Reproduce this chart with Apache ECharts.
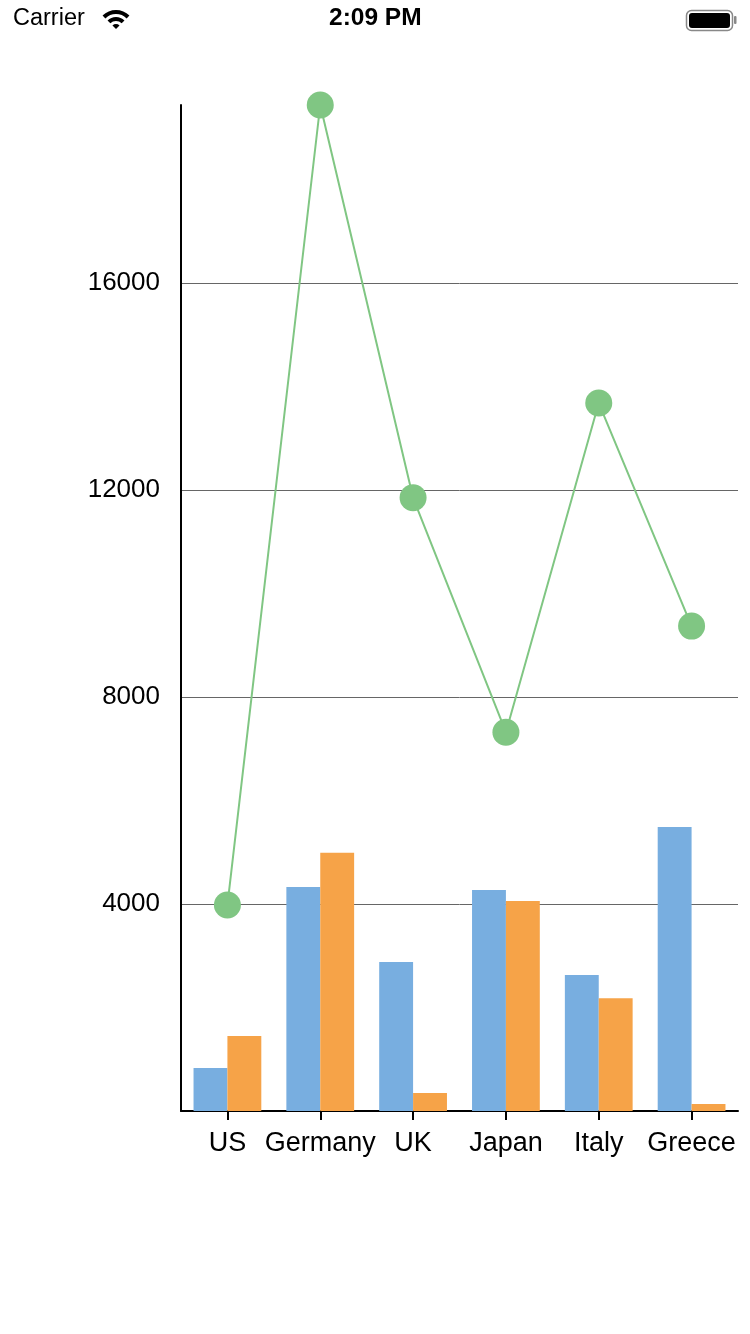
<!DOCTYPE html>
<html>
<head>
<meta charset="utf-8">
<script src="https://cdn.jsdelivr.net/npm/echarts@6/dist/echarts.min.js"></script>
<style>
html,body{margin:0;padding:0;background:#fff;}
#c{width:750px;height:1334px;}
</style>
</head>
<body>
<div id="c"></div>
<script>
var categories = ['US', 'Germany', 'UK', 'Japan', 'Italy', 'Greece'];
var blueValues = [830, 4330, 2880, 4270, 2630, 5490];
var orangeValues = [1450, 4990, 350, 4060, 2180, 135];
var lineValues = [3980, 19440, 11850, 7320, 13680, 9370];

var chart = echarts.init(document.getElementById('c'), null, {renderer: 'canvas'});
var font = 'Liberation Sans, Arial, Helvetica, sans-serif';
chart.setOption({
  animation: false,
  backgroundColor: '#ffffff',
  grid: {left: 181, right: 12, top: 105, bottom: 223, containLabel: false},
  xAxis: {
    type: 'category',
    data: categories,
    axisLine: {show: true, lineStyle: {color: '#000', width: 2}},
    axisTick: {show: true, alignWithLabel: true, length: 9, lineStyle: {color: '#000', width: 2}},
    axisLabel: {color: '#000', fontSize: 27, fontFamily: font, margin: 19, interval: 0},
    splitLine: {show: false}
  },
  yAxis: {
    type: 'value',
    min: 0,
    max: 'dataMax',
    interval: 4000,
    axisLine: {show: true, lineStyle: {color: '#000', width: 2}},
    axisTick: {show: false},
    axisLabel: {color: '#000', fontSize: 26, fontFamily: font, margin: 21, showMinLabel: false, showMaxLabel: false,
      padding: [4, 0, 0, 0],
      formatter: function (v) { return String(v); }},
    splitLine: {show: true, showMinLine: false, showMaxLine: false, lineStyle: {color: '#666', width: 1}}
  },
  series: [
    {type: 'bar', data: blueValues, itemStyle: {color: '#78aee0'}, barGap: '0%', barCategoryGap: '27%', z: 1},
    {type: 'bar', data: orangeValues, itemStyle: {color: '#f6a348'}, z: 1},
    {type: 'line', data: lineValues, symbol: 'circle', symbolSize: 27,
     lineStyle: {color: '#80c683', width: 2}, itemStyle: {color: '#80c683'}, z: 3}
  ],
  graphic: [
    {type: 'text', left: 13, top: 7, style: {text: 'Carrier', font: '23.5px ' + font, fill: '#000'}},
    {type: 'text', left: 329, top: 6, style: {text: '2:09 PM', font: 'bold 24.5px ' + font, fill: '#000'}},
    {type: 'sector', shape: {cx: 116, cy: 29, r0: 0, r: 5, startAngle: -Math.PI * 3 / 4, endAngle: -Math.PI / 4}, style: {fill: '#000'}},
    {type: 'sector', shape: {cx: 116, cy: 29, r0: 8, r: 12, startAngle: -Math.PI * 3 / 4, endAngle: -Math.PI / 4}, style: {fill: '#000'}},
    {type: 'sector', shape: {cx: 116, cy: 29, r0: 15, r: 19, startAngle: -Math.PI * 3 / 4, endAngle: -Math.PI / 4}, style: {fill: '#000'}},
    {type: 'rect', shape: {x: 686.5, y: 10.5, width: 46, height: 20, r: 5}, style: {fill: 'none', stroke: '#888', lineWidth: 1.5}},
    {type: 'rect', shape: {x: 689, y: 13, width: 41, height: 15, r: 3}, style: {fill: '#000'}},
    {type: 'rect', shape: {x: 734, y: 16, width: 2.5, height: 8, r: 1}, style: {fill: '#888'}}
  ]
});
</script>
</body>
</html>
